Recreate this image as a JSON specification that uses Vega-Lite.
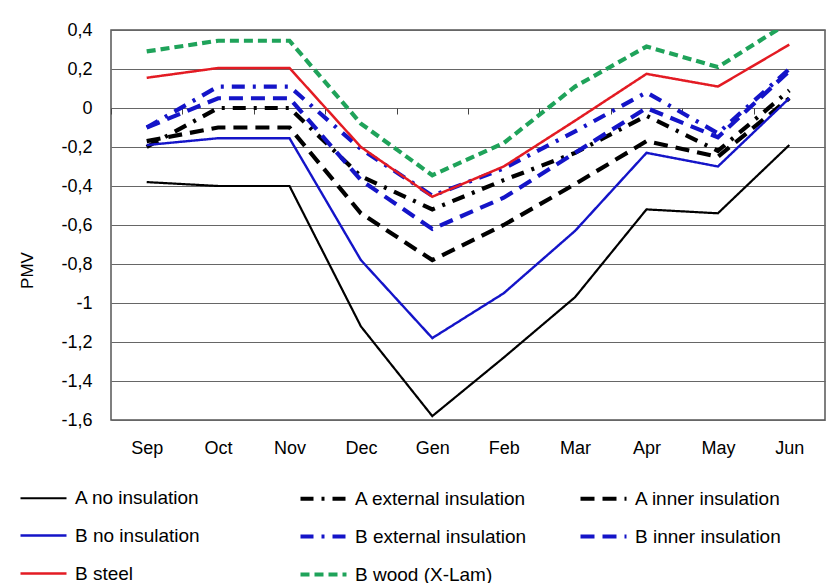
{
  "$schema": "https://vega.github.io/schema/vega-lite/v6.json",
  "width": 714,
  "height": 390,
  "autosize": {"type": "none"},
  "padding": {"left": 111, "top": 30, "right": 2, "bottom": 163},
  "background": "white",
  "config": {
    "view": {"stroke": "#555555", "strokeWidth": 1.5},
    "font": "Liberation Sans",
    "axisY": {
      "values": [-1.6, -1.4, -1.2, -1.0, -0.8, -0.6, -0.4, -0.2, 0, 0.2, 0.4],
      "labelOverlap": false,
      "labelExpr": "(datum.value < -0.001 ? '-' : '') + replace(replace(format(abs(datum.value), '.1f'), '.0', ''), '.', ',')",
      "domain": false,
      "ticks": false,
      "grid": true,
      "gridColor": "#666666",
      "gridWidth": 1.2,
      "labelFontSize": 18,
      "labelColor": "#000000",
      "labelPadding": 19,
      "titleFontSize": 17,
      "titleFontWeight": "normal",
      "titleColor": "#000000",
      "titleX": -84,
      "titleY": 240,
      "titleAngle": 270,
      "titleAlign": "center",
      "titleBaseline": "middle"
    }
  },
  "data": {
    "values": [
      {"series": "A no insulation", "month": "Sep", "pmv": -0.38},
      {"series": "A no insulation", "month": "Oct", "pmv": -0.40},
      {"series": "A no insulation", "month": "Nov", "pmv": -0.40},
      {"series": "A no insulation", "month": "Dec", "pmv": -1.12},
      {"series": "A no insulation", "month": "Gen", "pmv": -1.58},
      {"series": "A no insulation", "month": "Feb", "pmv": -1.28},
      {"series": "A no insulation", "month": "Mar", "pmv": -0.97},
      {"series": "A no insulation", "month": "Apr", "pmv": -0.52},
      {"series": "A no insulation", "month": "May", "pmv": -0.54},
      {"series": "A no insulation", "month": "Jun", "pmv": -0.19},
      {"series": "A external insulation", "month": "Sep", "pmv": -0.20},
      {"series": "A external insulation", "month": "Oct", "pmv": 0.00},
      {"series": "A external insulation", "month": "Nov", "pmv": 0.00},
      {"series": "A external insulation", "month": "Dec", "pmv": -0.35},
      {"series": "A external insulation", "month": "Gen", "pmv": -0.52},
      {"series": "A external insulation", "month": "Feb", "pmv": -0.37},
      {"series": "A external insulation", "month": "Mar", "pmv": -0.23},
      {"series": "A external insulation", "month": "Apr", "pmv": -0.04},
      {"series": "A external insulation", "month": "May", "pmv": -0.22},
      {"series": "A external insulation", "month": "Jun", "pmv": 0.09},
      {"series": "A inner insulation", "month": "Sep", "pmv": -0.17},
      {"series": "A inner insulation", "month": "Oct", "pmv": -0.10},
      {"series": "A inner insulation", "month": "Nov", "pmv": -0.10},
      {"series": "A inner insulation", "month": "Dec", "pmv": -0.54},
      {"series": "A inner insulation", "month": "Gen", "pmv": -0.78},
      {"series": "A inner insulation", "month": "Feb", "pmv": -0.60},
      {"series": "A inner insulation", "month": "Mar", "pmv": -0.39},
      {"series": "A inner insulation", "month": "Apr", "pmv": -0.17},
      {"series": "A inner insulation", "month": "May", "pmv": -0.25},
      {"series": "A inner insulation", "month": "Jun", "pmv": 0.05},
      {"series": "B no insulation", "month": "Sep", "pmv": -0.19},
      {"series": "B no insulation", "month": "Oct", "pmv": -0.155},
      {"series": "B no insulation", "month": "Nov", "pmv": -0.155},
      {"series": "B no insulation", "month": "Dec", "pmv": -0.78},
      {"series": "B no insulation", "month": "Gen", "pmv": -1.18},
      {"series": "B no insulation", "month": "Feb", "pmv": -0.95},
      {"series": "B no insulation", "month": "Mar", "pmv": -0.63},
      {"series": "B no insulation", "month": "Apr", "pmv": -0.23},
      {"series": "B no insulation", "month": "May", "pmv": -0.30},
      {"series": "B no insulation", "month": "Jun", "pmv": 0.05},
      {"series": "B external insulation", "month": "Sep", "pmv": -0.10},
      {"series": "B external insulation", "month": "Oct", "pmv": 0.11},
      {"series": "B external insulation", "month": "Nov", "pmv": 0.11},
      {"series": "B external insulation", "month": "Dec", "pmv": -0.21},
      {"series": "B external insulation", "month": "Gen", "pmv": -0.45},
      {"series": "B external insulation", "month": "Feb", "pmv": -0.31},
      {"series": "B external insulation", "month": "Mar", "pmv": -0.12},
      {"series": "B external insulation", "month": "Apr", "pmv": 0.08},
      {"series": "B external insulation", "month": "May", "pmv": -0.13},
      {"series": "B external insulation", "month": "Jun", "pmv": 0.20},
      {"series": "B inner insulation", "month": "Sep", "pmv": -0.10},
      {"series": "B inner insulation", "month": "Oct", "pmv": 0.05},
      {"series": "B inner insulation", "month": "Nov", "pmv": 0.05},
      {"series": "B inner insulation", "month": "Dec", "pmv": -0.37},
      {"series": "B inner insulation", "month": "Gen", "pmv": -0.62},
      {"series": "B inner insulation", "month": "Feb", "pmv": -0.46},
      {"series": "B inner insulation", "month": "Mar", "pmv": -0.23},
      {"series": "B inner insulation", "month": "Apr", "pmv": 0.00},
      {"series": "B inner insulation", "month": "May", "pmv": -0.15},
      {"series": "B inner insulation", "month": "Jun", "pmv": 0.19},
      {"series": "B steel", "month": "Sep", "pmv": 0.155},
      {"series": "B steel", "month": "Oct", "pmv": 0.205},
      {"series": "B steel", "month": "Nov", "pmv": 0.205},
      {"series": "B steel", "month": "Dec", "pmv": -0.20},
      {"series": "B steel", "month": "Gen", "pmv": -0.455},
      {"series": "B steel", "month": "Feb", "pmv": -0.30},
      {"series": "B steel", "month": "Mar", "pmv": -0.065},
      {"series": "B steel", "month": "Apr", "pmv": 0.175},
      {"series": "B steel", "month": "May", "pmv": 0.11},
      {"series": "B steel", "month": "Jun", "pmv": 0.325},
      {"series": "B wood (X-Lam)", "month": "Sep", "pmv": 0.29},
      {"series": "B wood (X-Lam)", "month": "Oct", "pmv": 0.345},
      {"series": "B wood (X-Lam)", "month": "Nov", "pmv": 0.345},
      {"series": "B wood (X-Lam)", "month": "Dec", "pmv": -0.08},
      {"series": "B wood (X-Lam)", "month": "Gen", "pmv": -0.345},
      {"series": "B wood (X-Lam)", "month": "Feb", "pmv": -0.18},
      {"series": "B wood (X-Lam)", "month": "Mar", "pmv": 0.11},
      {"series": "B wood (X-Lam)", "month": "Apr", "pmv": 0.315},
      {"series": "B wood (X-Lam)", "month": "May", "pmv": 0.21},
      {"series": "B wood (X-Lam)", "month": "Jun", "pmv": 0.44}
    ]
  },
  "layer": [
    {
      "mark": {"type": "line", "clip": true},
      "encoding": {
        "x": {
          "field": "month",
          "type": "ordinal",
          "sort": ["Sep", "Oct", "Nov", "Dec", "Gen", "Feb", "Mar", "Apr", "May", "Jun"],
          "scale": {"type": "point", "padding": 0.5},
          "axis": {
            "title": null,
            "domain": false,
            "ticks": false,
            "grid": false,
            "labelAngle": 0,
            "labelFontSize": 18,
            "labelColor": "#000000",
            "labelPadding": 19
          }
        },
        "y": {
          "field": "pmv",
          "type": "quantitative",
          "scale": {"domain": [-1.6, 0.4], "nice": false, "zero": false},
          "axis": {"title": "PMV"}
        },
        "color": {
          "field": "series",
          "type": "nominal",
          "scale": {
            "domain": ["A no insulation", "A external insulation", "A inner insulation", "B no insulation", "B external insulation", "B inner insulation", "B steel", "B wood (X-Lam)"],
            "range": ["#000000", "#000000", "#000000", "#1414c8", "#1414c8", "#1414c8", "#e31b23", "#1fa35a"]
          },
          "legend": {
            "title": null,
            "orient": "none",
            "direction": "horizontal",
            "legendX": -93,
            "legendY": 443,
            "columns": 3,
            "gridAlign": "all",
            "columnPadding": 45,
            "rowPadding": 2,
            "symbolType": "stroke",
            "symbolSize": 2116,
            "symbolStrokeWidth": 4,
            "labelFontSize": 19,
            "labelColor": "#000000",
            "labelOffset": 6,
            "labelLimit": 400
          }
        },
        "strokeDash": {
          "field": "series",
          "type": "nominal",
          "scale": {
            "domain": ["A no insulation", "A external insulation", "A inner insulation", "B no insulation", "B external insulation", "B inner insulation", "B steel", "B wood (X-Lam)"],
            "range": [[1, 0], [13, 8, 3, 8], [14, 8], [1, 0], [13, 8, 3, 8], [14, 8], [1, 0], [9, 5]]
          },
          "legend": {
            "title": null,
            "orient": "none",
            "direction": "horizontal",
            "legendX": -93,
            "legendY": 443,
            "columns": 3,
            "gridAlign": "all",
            "columnPadding": 45,
            "rowPadding": 2,
            "symbolType": "stroke",
            "symbolSize": 2116,
            "symbolStrokeWidth": 4,
            "labelFontSize": 19,
            "labelColor": "#000000",
            "labelOffset": 6,
            "labelLimit": 400
          }
        },
        "strokeWidth": {
          "field": "series",
          "type": "nominal",
          "scale": {
            "type": "ordinal",
            "domain": ["A no insulation", "A external insulation", "A inner insulation", "B no insulation", "B external insulation", "B inner insulation", "B steel", "B wood (X-Lam)"],
            "range": [2.2, 4.2, 4.2, 2.4, 4.2, 4.2, 2.5, 4.2]
          },
          "legend": null
        }
      }
    },
    {
      "mark": {"type": "line", "opacity": 0},
      "encoding": {
        "x": {
          "field": "month",
          "type": "ordinal",
          "sort": ["Sep", "Oct", "Nov", "Dec", "Gen", "Feb", "Mar", "Apr", "May", "Jun"],
          "axis": {
            "orient": "bottom",
            "offset": -312,
            "title": null,
            "labels": false,
            "domain": false,
            "grid": false,
            "ticks": true,
            "tickSize": 6,
            "tickColor": "#444444",
            "tickWidth": 1,
            "tickOffset": -35.7
          }
        },
        "y": {"field": "pmv", "type": "quantitative", "axis": {"title": "PMV"}},
        "detail": {"field": "series", "type": "nominal"}
      }
    }
  ],
  "resolve": {"axis": {"x": "independent"}}
}
